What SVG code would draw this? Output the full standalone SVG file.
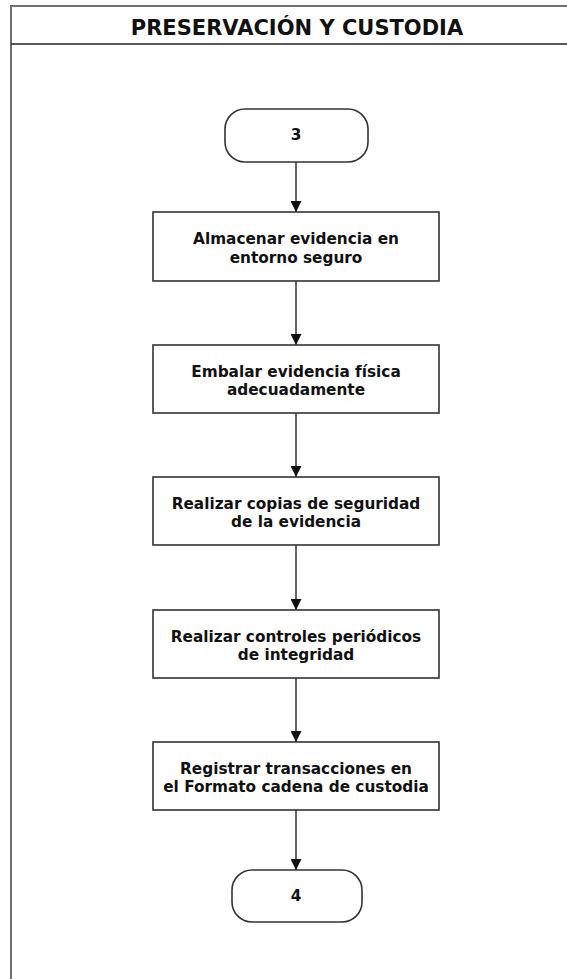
<svg xmlns="http://www.w3.org/2000/svg" width="567" height="979" viewBox="0 0 567 979">
<style>
.frame{fill:#fff;stroke:#707070;stroke-width:2}
.hdr{stroke:#222;stroke-width:1.5}
.box{fill:#fff;stroke:#333;stroke-width:1.6}
.t{font-family:"DejaVu Sans",Verdana,sans-serif;font-weight:bold;font-size:15.3px;fill:#111;text-anchor:middle}
.title{font-family:"DejaVu Sans",Verdana,sans-serif;font-weight:bold;font-size:21px;fill:#111;text-anchor:middle}
.c{stroke:#333;stroke-width:1.5;fill:none;marker-end:url(#ah)}
</style>
<defs>
<marker id="ah" viewBox="0 0 10 10" refX="10" refY="5" markerWidth="11" markerHeight="11" markerUnits="userSpaceOnUse" orient="auto">
<path d="M0,0 L10,5 L0,10 Z" fill="#111"/>
</marker>
</defs>
<rect width="567" height="979" fill="#fff"/>
<g id="frame">
<rect class="frame" x="11" y="6" width="570" height="990"/>
<line class="hdr" x1="11" y1="44" x2="567" y2="44"/>
<text class="title" x="297" y="35">PRESERVACIÓN Y CUSTODIA</text>
</g>
<g id="connectors">
<line class="c" x1="296" y1="162" x2="296" y2="212"/>
<line class="c" x1="296" y1="281" x2="296" y2="345"/>
<line class="c" x1="296" y1="413" x2="296" y2="477"/>
<line class="c" x1="296" y1="545" x2="296" y2="610"/>
<line class="c" x1="296" y1="678" x2="296" y2="742"/>
<line class="c" x1="296" y1="810" x2="296" y2="870"/>
</g>
<g id="start">
<rect class="box" x="225" y="109" width="143" height="53" rx="20" ry="20"/>
<text class="t" x="296" y="140">3</text>
</g>
<g id="n1">
<rect class="box" x="153" y="212" width="286" height="69"/>
<text class="t" x="296" y="244">Almacenar evidencia en</text>
<text class="t" x="296" y="262.5">entorno seguro</text>
</g>
<g id="n2">
<rect class="box" x="153" y="345" width="286" height="68"/>
<text class="t" x="296" y="376.5">Embalar evidencia física</text>
<text class="t" x="296" y="395">adecuadamente</text>
</g>
<g id="n3">
<rect class="box" x="153" y="477" width="286" height="68"/>
<text class="t" x="296" y="508.5">Realizar copias de seguridad</text>
<text class="t" x="296" y="527">de la evidencia</text>
</g>
<g id="n4">
<rect class="box" x="153" y="610" width="286" height="68"/>
<text class="t" x="296" y="641.5">Realizar controles periódicos</text>
<text class="t" x="296" y="660">de integridad</text>
</g>
<g id="n5">
<rect class="box" x="153" y="742" width="286" height="68"/>
<text class="t" x="296" y="773.5">Registrar transacciones en</text>
<text class="t" x="296" y="792">el Formato cadena de custodia</text>
</g>
<g id="end">
<rect class="box" x="232" y="870" width="130" height="52" rx="20" ry="20"/>
<text class="t" x="296" y="901">4</text>
</g>
</svg>
